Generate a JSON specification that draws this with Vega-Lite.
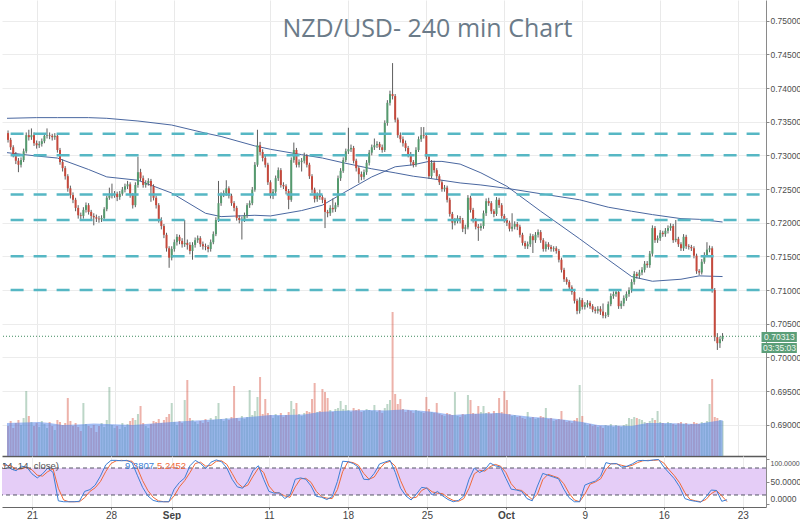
{
"$schema": "https://vega.github.io/schema/vega-lite/v6.json",
"padding": 0,
"background": "#ffffff",
"spacing": 0,
"config": {"view": {"stroke": null}, "axis": {"labelFont": "Liberation Sans", "labelFontSize": 9, "labelColor": "#4d4d4d", "titleFont": "Liberation Sans"}, "text": {"font": "Liberation Sans"}},
"datasets": {
"candles": [
{"i":-11,"o":0.7333,"h":0.7337,"l":0.7319,"c":0.7323,"v":300},
{"i":-10,"o":0.7323,"h":0.7326,"l":0.7308,"c":0.7312,"v":350},
{"i":-9,"o":0.7312,"h":0.7315,"l":0.7297,"c":0.7301,"v":280},
{"i":-8,"o":0.7301,"h":0.7305,"l":0.7287,"c":0.7292,"v":330},
{"i":-7,"o":0.7292,"h":0.7296,"l":0.7275,"c":0.7286,"v":360},
{"i":-6,"o":0.7286,"h":0.7297,"l":0.7282,"c":0.7293,"v":310},
{"i":-5,"o":0.7293,"h":0.7310,"l":0.7290,"c":0.7306,"v":380},
{"i":-4,"o":0.7306,"h":0.7334,"l":0.7303,"c":0.7330,"v":650},
{"i":-3,"o":0.7330,"h":0.7338,"l":0.7322,"c":0.7327,"v":400},
{"i":-2,"o":0.7327,"h":0.7340,"l":0.7323,"c":0.7330,"v":340},
{"i":-1,"o":0.7330,"h":0.7334,"l":0.7314,"c":0.7318,"v":300},
{"i":0,"o":0.7318,"h":0.7322,"l":0.7310,"c":0.7315,"v":330},
{"i":1,"o":0.7315,"h":0.7321,"l":0.7311,"c":0.7317,"v":290},
{"i":2,"o":0.7317,"h":0.7325,"l":0.7313,"c":0.7321,"v":350},
{"i":3,"o":0.7321,"h":0.7333,"l":0.7318,"c":0.7329,"v":320},
{"i":4,"o":0.7329,"h":0.7340,"l":0.7325,"c":0.7330,"v":280},
{"i":5,"o":0.7330,"h":0.7334,"l":0.7324,"c":0.7329,"v":340},
{"i":6,"o":0.7329,"h":0.7332,"l":0.7322,"c":0.7327,"v":300},
{"i":7,"o":0.7327,"h":0.7333,"l":0.7323,"c":0.7329,"v":260},
{"i":8,"o":0.7329,"h":0.7332,"l":0.7304,"c":0.7308,"v":360},
{"i":9,"o":0.7308,"h":0.7311,"l":0.7286,"c":0.7290,"v":340},
{"i":10,"o":0.7290,"h":0.7294,"l":0.7276,"c":0.7281,"v":310},
{"i":11,"o":0.7281,"h":0.7284,"l":0.7264,"c":0.7269,"v":330},
{"i":12,"o":0.7269,"h":0.7272,"l":0.7246,"c":0.7251,"v":580},
{"i":13,"o":0.7251,"h":0.7255,"l":0.7236,"c":0.7241,"v":350},
{"i":14,"o":0.7241,"h":0.7245,"l":0.7229,"c":0.7234,"v":300},
{"i":15,"o":0.7234,"h":0.7237,"l":0.7217,"c":0.7222,"v":330},
{"i":16,"o":0.7222,"h":0.7226,"l":0.7206,"c":0.7211,"v":290},
{"i":17,"o":0.7211,"h":0.7215,"l":0.7204,"c":0.7210,"v":250},
{"i":18,"o":0.7210,"h":0.7223,"l":0.7206,"c":0.7219,"v":530},
{"i":19,"o":0.7219,"h":0.7230,"l":0.7215,"c":0.7226,"v":320},
{"i":20,"o":0.7226,"h":0.7229,"l":0.7212,"c":0.7216,"v":300},
{"i":21,"o":0.7216,"h":0.7219,"l":0.7205,"c":0.7210,"v":280},
{"i":22,"o":0.7210,"h":0.7214,"l":0.7196,"c":0.7208,"v":310},
{"i":23,"o":0.7208,"h":0.7212,"l":0.7201,"c":0.7206,"v":240},
{"i":24,"o":0.7206,"h":0.7210,"l":0.7200,"c":0.7205,"v":300},
{"i":25,"o":0.7205,"h":0.7211,"l":0.7201,"c":0.7207,"v":330},
{"i":26,"o":0.7207,"h":0.7223,"l":0.7203,"c":0.7220,"v":290},
{"i":27,"o":0.7220,"h":0.7240,"l":0.7217,"c":0.7237,"v":360},
{"i":28,"o":0.7237,"h":0.7252,"l":0.7234,"c":0.7240,"v":690},
{"i":29,"o":0.7240,"h":0.7258,"l":0.7236,"c":0.7241,"v":310},
{"i":30,"o":0.7241,"h":0.7247,"l":0.7237,"c":0.7243,"v":280},
{"i":31,"o":0.7243,"h":0.7246,"l":0.7232,"c":0.7238,"v":300},
{"i":32,"o":0.7238,"h":0.7247,"l":0.7234,"c":0.7243,"v":270},
{"i":33,"o":0.7243,"h":0.7253,"l":0.7240,"c":0.7249,"v":330},
{"i":34,"o":0.7249,"h":0.7258,"l":0.7245,"c":0.7254,"v":290},
{"i":35,"o":0.7254,"h":0.7262,"l":0.7250,"c":0.7257,"v":320},
{"i":36,"o":0.7257,"h":0.7260,"l":0.7237,"c":0.7241,"v":350},
{"i":37,"o":0.7241,"h":0.7244,"l":0.7221,"c":0.7226,"v":380},
{"i":38,"o":0.7226,"h":0.7260,"l":0.7223,"c":0.7256,"v":360},
{"i":39,"o":0.7256,"h":0.7298,"l":0.7252,"c":0.7275,"v":420},
{"i":40,"o":0.7275,"h":0.7280,"l":0.7262,"c":0.7266,"v":500},
{"i":41,"o":0.7266,"h":0.7270,"l":0.7252,"c":0.7256,"v":330},
{"i":42,"o":0.7256,"h":0.7263,"l":0.7252,"c":0.7259,"v":300},
{"i":43,"o":0.7259,"h":0.7266,"l":0.7255,"c":0.7262,"v":280},
{"i":44,"o":0.7262,"h":0.7265,"l":0.7231,"c":0.7254,"v":320},
{"i":45,"o":0.7254,"h":0.7257,"l":0.7233,"c":0.7237,"v":350},
{"i":46,"o":0.7237,"h":0.7240,"l":0.7221,"c":0.7226,"v":340},
{"i":47,"o":0.7226,"h":0.7229,"l":0.7200,"c":0.7204,"v":370},
{"i":48,"o":0.7204,"h":0.7208,"l":0.7190,"c":0.7195,"v":330},
{"i":49,"o":0.7195,"h":0.7198,"l":0.7177,"c":0.7182,"v":360},
{"i":50,"o":0.7182,"h":0.7185,"l":0.7157,"c":0.7162,"v":390},
{"i":51,"o":0.7162,"h":0.7165,"l":0.7133,"c":0.7148,"v":420},
{"i":52,"o":0.7148,"h":0.7165,"l":0.7144,"c":0.7161,"v":530},
{"i":53,"o":0.7161,"h":0.7175,"l":0.7157,"c":0.7171,"v":340},
{"i":54,"o":0.7171,"h":0.7183,"l":0.7166,"c":0.7179,"v":310},
{"i":55,"o":0.7179,"h":0.7182,"l":0.7168,"c":0.7173,"v":350},
{"i":56,"o":0.7173,"h":0.7177,"l":0.7163,"c":0.7168,"v":330},
{"i":57,"o":0.7168,"h":0.7204,"l":0.7164,"c":0.7170,"v":560},
{"i":58,"o":0.7170,"h":0.7175,"l":0.7160,"c":0.7167,"v":760},
{"i":59,"o":0.7167,"h":0.7171,"l":0.7153,"c":0.7158,"v":380},
{"i":60,"o":0.7158,"h":0.7171,"l":0.7145,"c":0.7167,"v":360},
{"i":61,"o":0.7167,"h":0.7178,"l":0.7163,"c":0.7174,"v":340},
{"i":62,"o":0.7174,"h":0.7181,"l":0.7170,"c":0.7177,"v":320},
{"i":63,"o":0.7177,"h":0.7180,"l":0.7164,"c":0.7168,"v":350},
{"i":64,"o":0.7168,"h":0.7172,"l":0.7160,"c":0.7165,"v":330},
{"i":65,"o":0.7165,"h":0.7169,"l":0.7159,"c":0.7164,"v":370},
{"i":66,"o":0.7164,"h":0.7167,"l":0.7156,"c":0.7161,"v":340},
{"i":67,"o":0.7161,"h":0.7175,"l":0.7157,"c":0.7171,"v":380},
{"i":68,"o":0.7171,"h":0.7187,"l":0.7168,"c":0.7183,"v":360},
{"i":69,"o":0.7183,"h":0.7208,"l":0.7180,"c":0.7204,"v":400},
{"i":70,"o":0.7204,"h":0.7262,"l":0.7201,"c":0.7229,"v":530},
{"i":71,"o":0.7229,"h":0.7245,"l":0.7225,"c":0.7241,"v":370},
{"i":72,"o":0.7241,"h":0.7248,"l":0.7238,"c":0.7244,"v":350},
{"i":73,"o":0.7244,"h":0.7263,"l":0.7240,"c":0.7251,"v":380},
{"i":74,"o":0.7251,"h":0.7254,"l":0.7236,"c":0.7240,"v":360},
{"i":75,"o":0.7240,"h":0.7243,"l":0.7225,"c":0.7229,"v":390},
{"i":76,"o":0.7229,"h":0.7232,"l":0.7217,"c":0.7222,"v":700},
{"i":77,"o":0.7222,"h":0.7225,"l":0.7203,"c":0.7207,"v":380},
{"i":78,"o":0.7207,"h":0.7211,"l":0.7199,"c":0.7204,"v":350},
{"i":79,"o":0.7204,"h":0.7209,"l":0.7175,"c":0.7205,"v":400},
{"i":80,"o":0.7205,"h":0.7215,"l":0.7201,"c":0.7211,"v":370},
{"i":81,"o":0.7211,"h":0.7229,"l":0.7207,"c":0.7226,"v":390},
{"i":82,"o":0.7226,"h":0.7233,"l":0.7222,"c":0.7229,"v":660},
{"i":83,"o":0.7229,"h":0.7253,"l":0.7226,"c":0.7249,"v":410},
{"i":84,"o":0.7249,"h":0.7290,"l":0.7246,"c":0.7286,"v":450},
{"i":85,"o":0.7286,"h":0.7338,"l":0.7283,"c":0.7315,"v":590},
{"i":86,"o":0.7315,"h":0.7320,"l":0.7300,"c":0.7305,"v":790},
{"i":87,"o":0.7305,"h":0.7309,"l":0.7291,"c":0.7296,"v":420},
{"i":88,"o":0.7296,"h":0.7299,"l":0.7282,"c":0.7286,"v":570},
{"i":89,"o":0.7286,"h":0.7289,"l":0.7256,"c":0.7260,"v":430},
{"i":90,"o":0.7260,"h":0.7263,"l":0.7236,"c":0.7240,"v":410},
{"i":91,"o":0.7240,"h":0.7250,"l":0.7235,"c":0.7246,"v":380},
{"i":92,"o":0.7246,"h":0.7270,"l":0.7243,"c":0.7266,"v":420},
{"i":93,"o":0.7266,"h":0.7282,"l":0.7262,"c":0.7278,"v":400},
{"i":94,"o":0.7278,"h":0.7281,"l":0.7252,"c":0.7256,"v":430},
{"i":95,"o":0.7256,"h":0.7260,"l":0.7250,"c":0.7254,"v":390},
{"i":96,"o":0.7254,"h":0.7257,"l":0.7242,"c":0.7247,"v":410},
{"i":97,"o":0.7247,"h":0.7250,"l":0.7220,"c":0.7234,"v":440},
{"i":98,"o":0.7234,"h":0.7297,"l":0.7231,"c":0.7293,"v":550},
{"i":99,"o":0.7293,"h":0.7319,"l":0.7289,"c":0.7308,"v":470},
{"i":100,"o":0.7308,"h":0.7311,"l":0.7282,"c":0.7286,"v":530},
{"i":101,"o":0.7286,"h":0.7294,"l":0.7282,"c":0.7290,"v":420},
{"i":102,"o":0.7290,"h":0.7296,"l":0.7276,"c":0.7292,"v":400},
{"i":103,"o":0.7292,"h":0.7304,"l":0.7288,"c":0.7299,"v":430},
{"i":104,"o":0.7299,"h":0.7302,"l":0.7282,"c":0.7286,"v":450},
{"i":105,"o":0.7286,"h":0.7289,"l":0.7265,"c":0.7269,"v":440},
{"i":106,"o":0.7269,"h":0.7272,"l":0.7244,"c":0.7249,"v":570},
{"i":107,"o":0.7249,"h":0.7252,"l":0.7230,"c":0.7235,"v":730},
{"i":108,"o":0.7235,"h":0.7245,"l":0.7231,"c":0.7241,"v":440},
{"i":109,"o":0.7241,"h":0.7249,"l":0.7234,"c":0.7238,"v":450},
{"i":110,"o":0.7238,"h":0.7241,"l":0.7229,"c":0.7234,"v":670},
{"i":111,"o":0.7234,"h":0.7237,"l":0.7192,"c":0.7216,"v":640},
{"i":112,"o":0.7216,"h":0.7219,"l":0.7208,"c":0.7214,"v":580},
{"i":113,"o":0.7214,"h":0.7226,"l":0.7210,"c":0.7222,"v":460},
{"i":114,"o":0.7222,"h":0.7236,"l":0.7215,"c":0.7220,"v":440},
{"i":115,"o":0.7220,"h":0.7230,"l":0.7216,"c":0.7226,"v":470},
{"i":116,"o":0.7226,"h":0.7270,"l":0.7223,"c":0.7266,"v":480},
{"i":117,"o":0.7266,"h":0.7281,"l":0.7262,"c":0.7277,"v":550},
{"i":118,"o":0.7277,"h":0.7297,"l":0.7274,"c":0.7293,"v":470},
{"i":119,"o":0.7293,"h":0.7310,"l":0.7290,"c":0.7306,"v":510},
{"i":120,"o":0.7306,"h":0.7341,"l":0.7302,"c":0.7309,"v":460},
{"i":121,"o":0.7309,"h":0.7316,"l":0.7305,"c":0.7311,"v":440},
{"i":122,"o":0.7311,"h":0.7314,"l":0.7288,"c":0.7292,"v":480},
{"i":123,"o":0.7292,"h":0.7295,"l":0.7276,"c":0.7281,"v":460},
{"i":124,"o":0.7281,"h":0.7284,"l":0.7259,"c":0.7272,"v":470},
{"i":125,"o":0.7272,"h":0.7276,"l":0.7263,"c":0.7268,"v":440},
{"i":126,"o":0.7268,"h":0.7279,"l":0.7264,"c":0.7275,"v":450},
{"i":127,"o":0.7275,"h":0.7293,"l":0.7271,"c":0.7289,"v":470},
{"i":128,"o":0.7289,"h":0.7308,"l":0.7285,"c":0.7304,"v":460},
{"i":129,"o":0.7304,"h":0.7316,"l":0.7300,"c":0.7312,"v":450},
{"i":130,"o":0.7312,"h":0.7325,"l":0.7308,"c":0.7315,"v":510},
{"i":131,"o":0.7315,"h":0.7321,"l":0.7311,"c":0.7317,"v":440},
{"i":132,"o":0.7317,"h":0.7320,"l":0.7308,"c":0.7312,"v":460},
{"i":133,"o":0.7312,"h":0.7316,"l":0.7304,"c":0.7308,"v":430},
{"i":134,"o":0.7308,"h":0.7352,"l":0.7305,"c":0.7348,"v":480},
{"i":135,"o":0.7348,"h":0.7382,"l":0.7344,"c":0.7378,"v":520},
{"i":136,"o":0.7378,"h":0.7396,"l":0.7374,"c":0.7391,"v":560},
{"i":137,"o":0.7391,"h":0.7437,"l":0.7383,"c":0.7388,"v":1440},
{"i":138,"o":0.7388,"h":0.7391,"l":0.7349,"c":0.7353,"v":620},
{"i":139,"o":0.7353,"h":0.7356,"l":0.7326,"c":0.7330,"v":520},
{"i":140,"o":0.7330,"h":0.7334,"l":0.7319,"c":0.7324,"v":570},
{"i":141,"o":0.7324,"h":0.7328,"l":0.7313,"c":0.7318,"v":470},
{"i":142,"o":0.7318,"h":0.7322,"l":0.7306,"c":0.7311,"v":440},
{"i":143,"o":0.7311,"h":0.7314,"l":0.7297,"c":0.7302,"v":460},
{"i":144,"o":0.7302,"h":0.7305,"l":0.7285,"c":0.7290,"v":450},
{"i":145,"o":0.7290,"h":0.7293,"l":0.7282,"c":0.7286,"v":430},
{"i":146,"o":0.7286,"h":0.7312,"l":0.7283,"c":0.7308,"v":460},
{"i":147,"o":0.7308,"h":0.7328,"l":0.7305,"c":0.7324,"v":450},
{"i":148,"o":0.7324,"h":0.7342,"l":0.7320,"c":0.7330,"v":440},
{"i":149,"o":0.7330,"h":0.7342,"l":0.7325,"c":0.7329,"v":430},
{"i":150,"o":0.7329,"h":0.7332,"l":0.7294,"c":0.7298,"v":590},
{"i":151,"o":0.7298,"h":0.7301,"l":0.7265,"c":0.7269,"v":470},
{"i":152,"o":0.7269,"h":0.7293,"l":0.7266,"c":0.7289,"v":440},
{"i":153,"o":0.7289,"h":0.7292,"l":0.7274,"c":0.7278,"v":430},
{"i":154,"o":0.7278,"h":0.7281,"l":0.7265,"c":0.7269,"v":530},
{"i":155,"o":0.7269,"h":0.7272,"l":0.7256,"c":0.7260,"v":420},
{"i":156,"o":0.7260,"h":0.7263,"l":0.7246,"c":0.7250,"v":410},
{"i":157,"o":0.7250,"h":0.7256,"l":0.7246,"c":0.7252,"v":400},
{"i":158,"o":0.7252,"h":0.7255,"l":0.7230,"c":0.7234,"v":430},
{"i":159,"o":0.7234,"h":0.7237,"l":0.7209,"c":0.7213,"v":420},
{"i":160,"o":0.7213,"h":0.7216,"l":0.7190,"c":0.7200,"v":410},
{"i":161,"o":0.7200,"h":0.7207,"l":0.7196,"c":0.7203,"v":640},
{"i":162,"o":0.7203,"h":0.7211,"l":0.7199,"c":0.7207,"v":400},
{"i":163,"o":0.7207,"h":0.7210,"l":0.7199,"c":0.7204,"v":390},
{"i":164,"o":0.7204,"h":0.7207,"l":0.7186,"c":0.7191,"v":420},
{"i":165,"o":0.7191,"h":0.7197,"l":0.7183,"c":0.7193,"v":410},
{"i":166,"o":0.7193,"h":0.7241,"l":0.7190,"c":0.7237,"v":610},
{"i":167,"o":0.7237,"h":0.7240,"l":0.7215,"c":0.7219,"v":560},
{"i":168,"o":0.7219,"h":0.7222,"l":0.7200,"c":0.7204,"v":430},
{"i":169,"o":0.7204,"h":0.7207,"l":0.7190,"c":0.7194,"v":420},
{"i":170,"o":0.7194,"h":0.7198,"l":0.7173,"c":0.7192,"v":500},
{"i":171,"o":0.7192,"h":0.7199,"l":0.7188,"c":0.7195,"v":440},
{"i":172,"o":0.7195,"h":0.7218,"l":0.7191,"c":0.7214,"v":500},
{"i":173,"o":0.7214,"h":0.7236,"l":0.7210,"c":0.7232,"v":430},
{"i":174,"o":0.7232,"h":0.7237,"l":0.7225,"c":0.7229,"v":440},
{"i":175,"o":0.7229,"h":0.7232,"l":0.7213,"c":0.7217,"v":420},
{"i":176,"o":0.7217,"h":0.7220,"l":0.7208,"c":0.7213,"v":450},
{"i":177,"o":0.7213,"h":0.7238,"l":0.7210,"c":0.7234,"v":430},
{"i":178,"o":0.7234,"h":0.7237,"l":0.7222,"c":0.7226,"v":580},
{"i":179,"o":0.7226,"h":0.7229,"l":0.7206,"c":0.7210,"v":440},
{"i":180,"o":0.7210,"h":0.7213,"l":0.7200,"c":0.7204,"v":650},
{"i":181,"o":0.7204,"h":0.7207,"l":0.7195,"c":0.7200,"v":560},
{"i":182,"o":0.7200,"h":0.7203,"l":0.7187,"c":0.7191,"v":420},
{"i":183,"o":0.7191,"h":0.7214,"l":0.7187,"c":0.7194,"v":400},
{"i":184,"o":0.7194,"h":0.7202,"l":0.7190,"c":0.7198,"v":410},
{"i":185,"o":0.7198,"h":0.7201,"l":0.7189,"c":0.7194,"v":390},
{"i":186,"o":0.7194,"h":0.7197,"l":0.7178,"c":0.7182,"v":400},
{"i":187,"o":0.7182,"h":0.7185,"l":0.7166,"c":0.7170,"v":380},
{"i":188,"o":0.7170,"h":0.7173,"l":0.7161,"c":0.7165,"v":370},
{"i":189,"o":0.7165,"h":0.7172,"l":0.7161,"c":0.7168,"v":440},
{"i":190,"o":0.7168,"h":0.7184,"l":0.7164,"c":0.7180,"v":380},
{"i":191,"o":0.7180,"h":0.7183,"l":0.7155,"c":0.7174,"v":390},
{"i":192,"o":0.7174,"h":0.7186,"l":0.7170,"c":0.7182,"v":370},
{"i":193,"o":0.7182,"h":0.7190,"l":0.7178,"c":0.7186,"v":380},
{"i":194,"o":0.7186,"h":0.7189,"l":0.7170,"c":0.7174,"v":400},
{"i":195,"o":0.7174,"h":0.7177,"l":0.7157,"c":0.7161,"v":390},
{"i":196,"o":0.7161,"h":0.7172,"l":0.7157,"c":0.7168,"v":480},
{"i":197,"o":0.7168,"h":0.7171,"l":0.7160,"c":0.7164,"v":370},
{"i":198,"o":0.7164,"h":0.7167,"l":0.7157,"c":0.7161,"v":380},
{"i":199,"o":0.7161,"h":0.7165,"l":0.7157,"c":0.7162,"v":350},
{"i":200,"o":0.7162,"h":0.7165,"l":0.7154,"c":0.7158,"v":360},
{"i":201,"o":0.7158,"h":0.7161,"l":0.7141,"c":0.7145,"v":370},
{"i":202,"o":0.7145,"h":0.7148,"l":0.7126,"c":0.7130,"v":450},
{"i":203,"o":0.7130,"h":0.7133,"l":0.7112,"c":0.7116,"v":360},
{"i":204,"o":0.7116,"h":0.7119,"l":0.7108,"c":0.7112,"v":340},
{"i":205,"o":0.7112,"h":0.7115,"l":0.7100,"c":0.7104,"v":350},
{"i":206,"o":0.7104,"h":0.7107,"l":0.7093,"c":0.7097,"v":330},
{"i":207,"o":0.7097,"h":0.7100,"l":0.7080,"c":0.7084,"v":360},
{"i":208,"o":0.7084,"h":0.7087,"l":0.7064,"c":0.7069,"v":380},
{"i":209,"o":0.7069,"h":0.7089,"l":0.7065,"c":0.7085,"v":710},
{"i":210,"o":0.7085,"h":0.7088,"l":0.7071,"c":0.7075,"v":400},
{"i":211,"o":0.7075,"h":0.7082,"l":0.7071,"c":0.7078,"v":330},
{"i":212,"o":0.7078,"h":0.7085,"l":0.7074,"c":0.7081,"v":310},
{"i":213,"o":0.7081,"h":0.7084,"l":0.7072,"c":0.7076,"v":320},
{"i":214,"o":0.7076,"h":0.7079,"l":0.7067,"c":0.7071,"v":300},
{"i":215,"o":0.7071,"h":0.7075,"l":0.7065,"c":0.7069,"v":310},
{"i":216,"o":0.7069,"h":0.7076,"l":0.7065,"c":0.7072,"v":290},
{"i":217,"o":0.7072,"h":0.7076,"l":0.7063,"c":0.7068,"v":300},
{"i":218,"o":0.7068,"h":0.7080,"l":0.7058,"c":0.7062,"v":280},
{"i":219,"o":0.7062,"h":0.7067,"l":0.7058,"c":0.7063,"v":310},
{"i":220,"o":0.7063,"h":0.7083,"l":0.7060,"c":0.7079,"v":300},
{"i":221,"o":0.7079,"h":0.7095,"l":0.7076,"c":0.7091,"v":320},
{"i":222,"o":0.7091,"h":0.7098,"l":0.7087,"c":0.7094,"v":290},
{"i":223,"o":0.7094,"h":0.7101,"l":0.7090,"c":0.7097,"v":310},
{"i":224,"o":0.7097,"h":0.7100,"l":0.7072,"c":0.7076,"v":300},
{"i":225,"o":0.7076,"h":0.7084,"l":0.7072,"c":0.7080,"v":290},
{"i":226,"o":0.7080,"h":0.7092,"l":0.7076,"c":0.7088,"v":310},
{"i":227,"o":0.7088,"h":0.7098,"l":0.7084,"c":0.7094,"v":320},
{"i":228,"o":0.7094,"h":0.7104,"l":0.7090,"c":0.7100,"v":380},
{"i":229,"o":0.7100,"h":0.7116,"l":0.7096,"c":0.7112,"v":370},
{"i":230,"o":0.7112,"h":0.7128,"l":0.7108,"c":0.7124,"v":390},
{"i":231,"o":0.7124,"h":0.7127,"l":0.7117,"c":0.7121,"v":380},
{"i":232,"o":0.7121,"h":0.7130,"l":0.7117,"c":0.7126,"v":370},
{"i":233,"o":0.7126,"h":0.7134,"l":0.7122,"c":0.7130,"v":360},
{"i":234,"o":0.7130,"h":0.7143,"l":0.7126,"c":0.7139,"v":340},
{"i":235,"o":0.7139,"h":0.7143,"l":0.7133,"c":0.7137,"v":330},
{"i":236,"o":0.7137,"h":0.7158,"l":0.7133,"c":0.7154,"v":350},
{"i":237,"o":0.7154,"h":0.7196,"l":0.7150,"c":0.7192,"v":380},
{"i":238,"o":0.7192,"h":0.7195,"l":0.7170,"c":0.7174,"v":360},
{"i":239,"o":0.7174,"h":0.7181,"l":0.7170,"c":0.7177,"v":450},
{"i":240,"o":0.7177,"h":0.7189,"l":0.7173,"c":0.7185,"v":340},
{"i":241,"o":0.7185,"h":0.7188,"l":0.7179,"c":0.7183,"v":330},
{"i":242,"o":0.7183,"h":0.7192,"l":0.7179,"c":0.7188,"v":320},
{"i":243,"o":0.7188,"h":0.7196,"l":0.7184,"c":0.7192,"v":340},
{"i":244,"o":0.7192,"h":0.7199,"l":0.7188,"c":0.7195,"v":330},
{"i":245,"o":0.7195,"h":0.7198,"l":0.7170,"c":0.7174,"v":320},
{"i":246,"o":0.7174,"h":0.7204,"l":0.7171,"c":0.7176,"v":310},
{"i":247,"o":0.7176,"h":0.7179,"l":0.7164,"c":0.7168,"v":330},
{"i":248,"o":0.7168,"h":0.7171,"l":0.7158,"c":0.7162,"v":340},
{"i":249,"o":0.7162,"h":0.7183,"l":0.7158,"c":0.7179,"v":320},
{"i":250,"o":0.7179,"h":0.7182,"l":0.7161,"c":0.7165,"v":330},
{"i":251,"o":0.7165,"h":0.7168,"l":0.7160,"c":0.7164,"v":310},
{"i":252,"o":0.7164,"h":0.7167,"l":0.7158,"c":0.7162,"v":320},
{"i":253,"o":0.7162,"h":0.7165,"l":0.7147,"c":0.7151,"v":340},
{"i":254,"o":0.7151,"h":0.7154,"l":0.7124,"c":0.7128,"v":330},
{"i":255,"o":0.7128,"h":0.7131,"l":0.7122,"c":0.7126,"v":320},
{"i":256,"o":0.7126,"h":0.7146,"l":0.7123,"c":0.7142,"v":340},
{"i":257,"o":0.7142,"h":0.7156,"l":0.7139,"c":0.7152,"v":330},
{"i":258,"o":0.7152,"h":0.7171,"l":0.7149,"c":0.7160,"v":350},
{"i":259,"o":0.7160,"h":0.7166,"l":0.7156,"c":0.7162,"v":520},
{"i":260,"o":0.7162,"h":0.7165,"l":0.7096,"c":0.7100,"v":770},
{"i":261,"o":0.7100,"h":0.7103,"l":0.7024,"c":0.7030,"v":390},
{"i":262,"o":0.7030,"h":0.7036,"l":0.7011,"c":0.7021,"v":380},
{"i":263,"o":0.7021,"h":0.7031,"l":0.7014,"c":0.7027,"v":360},
{"i":264,"o":0.7027,"h":0.7036,"l":0.7024,"c":0.70313,"v":350}
],
"vma": [
{"i":-11.4,"vm":330},{"i":-5,"vm":335},{"i":1,"vm":340},{"i":5,"vm":330},{"i":10,"vm":310},{"i":16,"vm":315},{"i":22,"vm":325},{"i":27,"vm":320},{"i":32,"vm":315},{"i":37,"vm":310},{"i":42,"vm":320},{"i":47,"vm":330},{"i":52,"vm":340},{"i":58,"vm":350},{"i":65,"vm":360},{"i":71,"vm":370},{"i":77,"vm":380},{"i":84,"vm":395},{"i":90,"vm":410},{"i":96,"vm":410},{"i":103,"vm":415},{"i":109,"vm":440},{"i":115,"vm":450},{"i":121,"vm":455},{"i":128,"vm":460},{"i":134,"vm":455},{"i":141,"vm":465},{"i":147,"vm":455},{"i":153,"vm":440},{"i":160,"vm":410},{"i":166,"vm":420},{"i":172,"vm":425},{"i":178,"vm":430},{"i":184,"vm":410},{"i":191,"vm":390},{"i":197,"vm":380},{"i":204,"vm":360},{"i":210,"vm":340},{"i":216,"vm":310},{"i":222,"vm":305},{"i":229,"vm":300},{"i":235,"vm":330},{"i":242,"vm":330},{"i":248,"vm":325},{"i":254,"vm":320},{"i":259,"vm":340},{"i":264,"vm":360}
],
"ma": [
{"i":-11.4,"f":0.7304,"s":0.7355},{"i":0,"f":0.7299,"s":0.7356},{"i":8,"f":0.7296,"s":0.7356},{"i":20,"f":0.7279,"s":0.7356},{"i":27,"f":0.7268,"s":0.7355},{"i":39,"f":0.7263,"s":0.7351},{"i":52,"f":0.7244,"s":0.7345},{"i":65,"f":0.7214,"s":0.7333},{"i":71,"f":0.7209,"s":0.7328},{"i":84,"f":0.7211,"s":0.7314},{"i":90,"f":0.7210,"s":0.7309},{"i":102,"f":0.7218,"s":0.7301},{"i":110,"f":0.7226,"s":0.7296},{"i":118,"f":0.7244,"s":0.7289},{"i":129,"f":0.7268,"s":0.7280},{"i":138,"f":0.7283,"s":0.7274},{"i":145,"f":0.7286,"s":0.7269},{"i":151,"f":0.7291,"s":0.7266},{"i":156,"f":0.7291,"s":0.7263},{"i":163,"f":0.7287,"s":0.7259},{"i":171,"f":0.7274,"s":0.7256},{"i":181,"f":0.7254,"s":0.7251},{"i":194,"f":0.7217,"s":0.7243},{"i":209,"f":0.7176,"s":0.7234},{"i":220,"f":0.7145,"s":0.7223},{"i":229,"f":0.7120,"s":0.7217},{"i":237,"f":0.7113,"s":0.7212},{"i":248,"f":0.7116,"s":0.7206},{"i":255,"f":0.7121,"s":0.7205},{"i":264,"f":0.7120,"s":0.7201}
],
"levels": [{"p":0.7332},{"p":0.7300},{"p":0.7242},{"p":0.7204},{"p":0.7150},{"p":0.7100}],
"tags": [{"t":"0.70313","lo":0.70228,"hi":0.70377,"mid":0.703025,"x0":279.0,"x1":292.6,"xm":285.9},{"t":"03:35:03","lo":0.70065,"hi":0.70213,"mid":0.70139,"x0":279.0,"x1":292.6,"xm":285.9}],
"stoch": [
{"i":-11,"k":90,"d":87},{"i":-10,"k":89,"d":86},{"i":-8,"k":78,"d":85},{"i":-6,"k":74,"d":77},{"i":-4,"k":84,"d":78},{"i":-2,"k":82,"d":82},{"i":0,"k":67,"d":76},{"i":2,"k":58,"d":64},{"i":4,"k":67,"d":62},{"i":6,"k":80,"d":72},{"i":8,"k":70,"d":78},{"i":10,"k":7,"d":35},{"i":12,"k":5,"d":9},{"i":14,"k":5,"d":5},{"i":16,"k":5,"d":5},{"i":18,"k":6,"d":5},{"i":20,"k":28,"d":14},{"i":22,"k":32,"d":28},{"i":24,"k":42,"d":36},{"i":26,"k":62,"d":50},{"i":28,"k":87,"d":72},{"i":30,"k":97,"d":90},{"i":32,"k":97,"d":96},{"i":34,"k":96,"d":97},{"i":36,"k":97,"d":96},{"i":38,"k":92,"d":95},{"i":40,"k":64,"d":80},{"i":42,"k":37,"d":52},{"i":44,"k":18,"d":30},{"i":46,"k":8,"d":15},{"i":48,"k":5,"d":7},{"i":50,"k":5,"d":5},{"i":52,"k":5,"d":5},{"i":54,"k":33,"d":18},{"i":56,"k":48,"d":38},{"i":58,"k":58,"d":52},{"i":60,"k":85,"d":70},{"i":62,"k":97,"d":90},{"i":64,"k":90,"d":93},{"i":66,"k":79,"d":84},{"i":68,"k":93,"d":86},{"i":70,"k":98,"d":95},{"i":72,"k":94,"d":96},{"i":74,"k":80,"d":88},{"i":76,"k":55,"d":68},{"i":78,"k":38,"d":47},{"i":80,"k":35,"d":37},{"i":82,"k":50,"d":42},{"i":84,"k":75,"d":62},{"i":86,"k":85,"d":80},{"i":88,"k":55,"d":70},{"i":90,"k":28,"d":40},{"i":92,"k":24,"d":26},{"i":94,"k":25,"d":24},{"i":96,"k":12,"d":18},{"i":98,"k":20,"d":15},{"i":100,"k":55,"d":38},{"i":102,"k":58,"d":56},{"i":104,"k":55,"d":57},{"i":106,"k":40,"d":48},{"i":108,"k":17,"d":28},{"i":110,"k":15,"d":16},{"i":112,"k":10,"d":13},{"i":114,"k":16,"d":12},{"i":116,"k":50,"d":32},{"i":118,"k":95,"d":72},{"i":120,"k":94,"d":94},{"i":122,"k":90,"d":92},{"i":124,"k":82,"d":86},{"i":126,"k":55,"d":68},{"i":128,"k":54,"d":55},{"i":130,"k":68,"d":60},{"i":132,"k":89,"d":78},{"i":134,"k":93,"d":91},{"i":136,"k":97,"d":95},{"i":138,"k":70,"d":84},{"i":140,"k":35,"d":52},{"i":142,"k":18,"d":26},{"i":144,"k":9,"d":13},{"i":146,"k":22,"d":15},{"i":148,"k":37,"d":30},{"i":150,"k":35,"d":36},{"i":152,"k":20,"d":27},{"i":154,"k":28,"d":24},{"i":156,"k":18,"d":23},{"i":158,"k":10,"d":14},{"i":160,"k":5,"d":8},{"i":162,"k":8,"d":6},{"i":164,"k":18,"d":12},{"i":166,"k":55,"d":35},{"i":168,"k":80,"d":67},{"i":170,"k":70,"d":75},{"i":172,"k":76,"d":73},{"i":174,"k":91,"d":83},{"i":176,"k":85,"d":88},{"i":178,"k":82,"d":84},{"i":180,"k":57,"d":70},{"i":182,"k":33,"d":45},{"i":184,"k":31,"d":32},{"i":186,"k":28,"d":30},{"i":188,"k":12,"d":20},{"i":190,"k":7,"d":10},{"i":192,"k":40,"d":22},{"i":194,"k":68,"d":54},{"i":196,"k":64,"d":66},{"i":198,"k":60,"d":62},{"i":200,"k":56,"d":58},{"i":202,"k":33,"d":45},{"i":204,"k":14,"d":24},{"i":206,"k":5,"d":9},{"i":208,"k":5,"d":5},{"i":210,"k":42,"d":22},{"i":212,"k":47,"d":44},{"i":214,"k":51,"d":49},{"i":216,"k":62,"d":56},{"i":218,"k":92,"d":77},{"i":220,"k":89,"d":90},{"i":222,"k":90,"d":89},{"i":224,"k":82,"d":86},{"i":226,"k":84,"d":83},{"i":228,"k":89,"d":86},{"i":230,"k":96,"d":92},{"i":232,"k":97,"d":96},{"i":234,"k":96,"d":97},{"i":236,"k":98,"d":97},{"i":238,"k":99,"d":98},{"i":240,"k":82,"d":91},{"i":242,"k":69,"d":76},{"i":244,"k":56,"d":63},{"i":246,"k":38,"d":47},{"i":248,"k":12,"d":25},{"i":250,"k":8,"d":10},{"i":252,"k":6,"d":7},{"i":254,"k":4,"d":5},{"i":256,"k":16,"d":10},{"i":258,"k":31,"d":23},{"i":260,"k":30,"d":30},{"i":262,"k":6,"d":18},{"i":264,"k":9.3807,"d":5.2452}
]
},
"vconcat": [
{
"width": 764,
"height": 456,
"encoding": {"x": {"field": "i", "type": "quantitative", "scale": {"domain": [-11.4, 278.8], "nice": false, "zero": false},
  "axis": {"orient": "bottom", "values": [0,30,53,90,120,150,180,210,240,270], "labels": false, "ticks": false, "grid": true, "gridColor": "#e9e9e9", "domainColor": "#5a5a5a", "domainWidth": 1.5, "title": null}}},
"layer": [
 {"encoding": {"y": {"field": "v", "type": "quantitative", "scale": {"domain": [0, 4560], "nice": false, "zero": true}, "axis": null}},
  "layer": [
  {"data": {"name": "candles"}, "mark": {"type": "bar", "size": 2, "opacity": 0.45},
   "encoding": {"color": {"condition": {"test": "datum.c >= datum.o", "value": "#6ba583"}, "value": "#d75442"}}},
  {"data": {"name": "vma"}, "mark": {"type": "area", "color": "#5a86ea", "opacity": 0.55},
   "encoding": {"y": {"field": "vm"}}}
 ]},
 {"encoding": {"y": {"field": "f", "type": "quantitative", "scale": {"domain": [0.68535, 0.75307], "nice": false, "zero": false},
     "axis": {"orient": "right", "values": [0.69,0.695,0.7,0.705,0.71,0.715,0.72,0.725,0.73,0.735,0.74,0.745,0.75], "format": ".5f", "grid": true, "gridColor": "#ececec", "domainColor": "#8a8a8a", "tickSize": 3, "tickColor": "#8a8a8a", "labelFontSize": 8.5, "labelColor": "#4d4d4d", "labelPadding": 1, "title": null}}},
  "layer": [
  {"data": {"name": "ma"}, "mark": {"type": "line", "color": "#4a67a0", "strokeWidth": 1}},
  {"data": {"name": "ma"}, "mark": {"type": "line", "color": "#4a67a0", "strokeWidth": 1}, "encoding": {"y": {"field": "s"}}},
  {"data": {"name": "candles"}, "mark": {"type": "rule", "color": "#5d5d5d", "strokeWidth": 1}, "encoding": {"y": {"field": "l"}, "y2": {"field": "h"}}},
  {"data": {"name": "candles"}, "mark": {"type": "bar", "size": 2},
   "encoding": {"y": {"field": "o"}, "y2": {"field": "c"}, "color": {"condition": {"test": "datum.c >= datum.o", "value": "#559a6e"}, "value": "#c6493c"}}},
  {"data": {"name": "levels"}, "mark": {"type": "rule", "color": "#56b7c4", "strokeWidth": 2.5, "strokeDash": [13, 10], "strokeDashOffset": 16.6},
   "encoding": {"x": null, "y": {"field": "p"}}},
  {"data": {"values": [{"p": 0.70313}]}, "mark": {"type": "rule", "color": "#3f8a5e", "strokeWidth": 1, "strokeDash": [1, 2]},
   "encoding": {"x": null, "y": {"field": "p"}}},
  {"data": {"values": [{"t": "NZD/USD- 240 min Chart", "x": 150.4, "y": 0.7487}]}, "mark": {"type": "text", "font": "Open Sans", "fontSize": 25, "color": "#6b7b89", "align": "center", "baseline": "middle"},
   "encoding": {"x": {"field": "x"}, "y": {"field": "y"}, "text": {"field": "t"}}},
  {"data": {"name": "tags"}, "mark": {"type": "rect", "color": "#5b9e78", "clip": false},
   "encoding": {"x": {"field": "x0"}, "x2": {"field": "x1"}, "y": {"field": "lo"}, "y2": {"field": "hi"}}},
  {"data": {"name": "tags"}, "mark": {"type": "text", "color": "#eef7ef", "fontSize": 8.5, "align": "center", "baseline": "middle", "clip": false},
   "encoding": {"x": {"field": "xm"}, "y": {"field": "mid"}, "text": {"field": "t"}}}
 ]}
],
"resolve": {"scale": {"y": "independent"}}
},
{
"width": 764,
"height": 51,
"encoding": {"x": {"field": "i", "type": "quantitative", "scale": {"domain": [-11.4, 278.8], "nice": false, "zero": false},
    "axis": {"orient": "bottom", "values": [0,30,53,90,120,150,180,210,240,270], "grid": true, "gridColor": "#ececec", "tickSize": 2, "tickColor": "#777777", "domainColor": "#666666", "labelFontSize": 10, "labelColor": "#444444", "labelPadding": 1, "title": null,
     "labelFontWeight": {"condition": {"test": "datum.value == 53 || datum.value == 180", "value": "bold"}, "value": "normal"},
     "labelExpr": "datum.value==0?'21':datum.value==30?'28':datum.value==53?'Sep':datum.value==90?'11':datum.value==120?'18':datum.value==150?'25':datum.value==180?'Oct':datum.value==210?'9':datum.value==240?'16':'23'"}},
  "y": {"field": "k", "type": "quantitative", "scale": {"domain": [-6.7, 106.7], "nice": false, "zero": false},
     "axis": {"orient": "right", "values": [0, 50, 100], "format": ".4f", "grid": false, "domainColor": "#8a8a8a", "tickSize": 3, "tickColor": "#8a8a8a", "labelColor": "#4d4d4d", "labelPadding": 1, "title": null,
      "labelFontSize": {"condition": {"test": "datum.value == 100", "value": 7}, "value": 8.5},
      "labelBaseline": {"condition": [{"test": "datum.value == 100", "value": "top"}, {"test": "datum.value == 0", "value": "bottom"}], "value": "middle"}}}},
"layer": [
 {"data": {"values": [{"lo": 20, "hi": 80, "x0": -11.4, "x1": 278.8}]}, "mark": {"type": "rect", "color": "#e5cdf7"},
  "encoding": {"x": {"field": "x0"}, "x2": {"field": "x1"}, "y": {"field": "lo"}, "y2": {"field": "hi"}}},
 {"data": {"values": [{"s": 20}, {"s": 80}]}, "mark": {"type": "rule", "color": "#555566", "strokeWidth": 1, "strokeDash": [4, 3]},
  "encoding": {"x": null, "y": {"field": "s"}}},
 {"data": {"name": "stoch"}, "mark": {"type": "line", "color": "#f06a3a", "strokeWidth": 1}, "encoding": {"y": {"field": "d"}}},
 {"data": {"name": "stoch"}, "mark": {"type": "line", "color": "#3d7fd6", "strokeWidth": 1}},
 {"data": {"values": [{"t": "14, 14, close)", "x": -11.4, "yy": 84, "c": "g"}, {"t": "9.3807", "x": 35.3, "yy": 84, "c": "k"}, {"t": "5.2452", "x": 47.5, "yy": 84, "c": "d"}]},
  "mark": {"type": "text", "fontSize": 9.5, "align": "left", "baseline": "middle"},
  "encoding": {"x": {"field": "x"}, "y": {"field": "yy"}, "text": {"field": "t"},
   "color": {"field": "c", "type": "nominal", "scale": {"domain": ["g", "k", "d"], "range": ["#555555", "#3d7fd6", "#f06a3a"]}, "legend": null}}}
]
}
]
}
